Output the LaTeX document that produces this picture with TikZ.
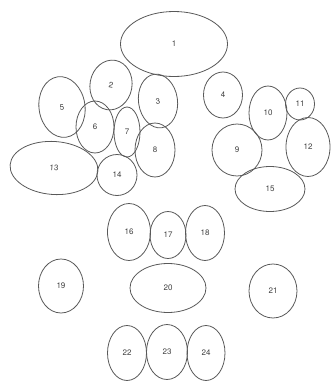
\documentclass[tikz,border=0pt]{standalone}
\usepackage{fontspec}
\setmainfont{TeX Gyre Heros}
\usetikzlibrary{shapes.geometric}

\begin{document}
\begin{tikzpicture}[x=1pt, y=-1pt,
  blob/.style={ellipse, draw=black!65, line width=0.8pt, inner sep=0pt,
    font=\fontsize{8}{9}\selectfont, text=black!75}]
\useasboundingbox (0,0) rectangle (331,381);

% Top group
\node[blob, minimum width=107, minimum height=65] (n1) at (174,44) {1};
\node[blob, minimum width=42, minimum height=50, rotate=-10] (n2) at (111,85) {2};
\node[blob, minimum width=39, minimum height=54, rotate=8] (n3) at (158,101) {3};
\node[blob, minimum width=39, minimum height=46] (n4) at (223,95) {4};

% Left cluster
\node[blob, minimum width=46, minimum height=61, rotate=8] (n5) at (62,107) {5};
\node[blob, minimum width=38, minimum height=52] (n6) at (95,127) {6};
\node[blob, minimum width=26, minimum height=50] (n7) at (127,132) {7};
\node[blob, minimum width=40, minimum height=54] (n8) at (155,150) {8};
\node[blob, minimum width=88, minimum height=53, rotate=-4] (n13) at (54,168) {13};
\node[blob, minimum width=40, minimum height=41] (n14) at (117,175) {14};

% Right cluster
\node[blob, minimum width=50, minimum height=52] (n9) at (237,150) {9};
\node[blob, minimum width=38, minimum height=54] (n10) at (268,113) {10};
\node[blob, minimum width=29, minimum height=32] (n11) at (300,104) {11};
\node[blob, minimum width=44, minimum height=59] (n12) at (308,147) {12};
\node[blob, minimum width=70, minimum height=45] (n15) at (270,189) {15};

% Middle row
\node[blob, minimum width=43, minimum height=57] (n16) at (129,232) {16};
\node[blob, minimum width=36, minimum height=47] (n17) at (168,235) {17};
\node[blob, minimum width=39, minimum height=55] (n18) at (205,233) {18};

% Lower row
\node[blob, minimum width=45, minimum height=54] (n19) at (61,286) {19};
\node[blob, minimum width=76, minimum height=49] (n20) at (168,288) {20};
\node[blob, minimum width=48, minimum height=54] (n21) at (273,291) {21};

% Bottom row
\node[blob, minimum width=39, minimum height=55] (n22) at (127,353) {22};
\node[blob, minimum width=41, minimum height=55] (n23) at (167,352) {23};
\node[blob, minimum width=38, minimum height=55] (n24) at (206,353) {24};
\end{tikzpicture}
\end{document}
